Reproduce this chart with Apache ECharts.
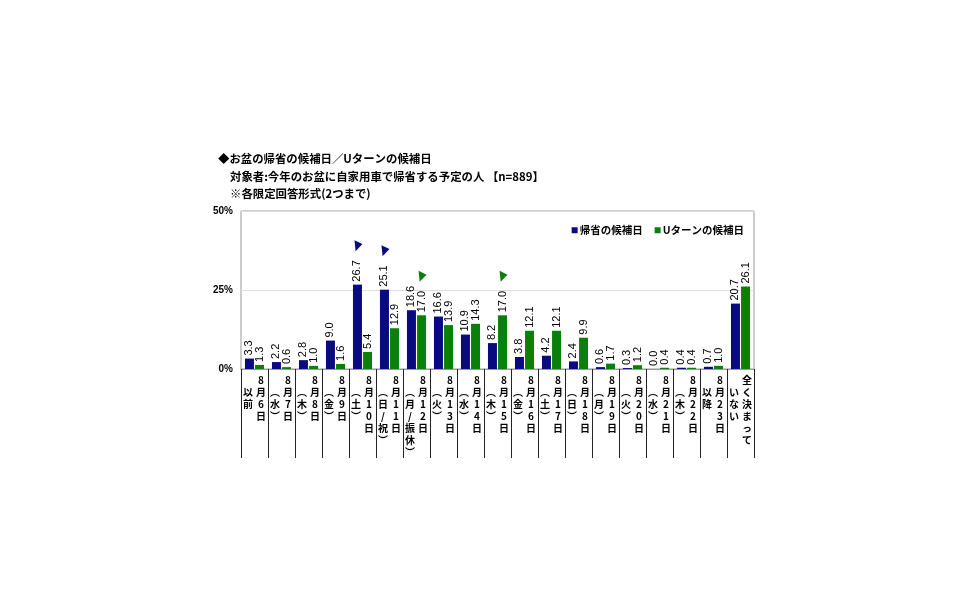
<!DOCTYPE html>
<html>
<head>
<meta charset="utf-8">
<script src="https://cdn.jsdelivr.net/npm/echarts@6/dist/echarts.min.js"></script>
<style>
html,body{margin:0;padding:0;background:#fff;}
#c{width:968px;height:605px;}
</style>
</head>
<body>
<div id="c"></div>
<script>
// ---- data ----
var titleLines = [
  '◆お盆の帰省の候補日／Uターンの候補日',
  '対象者:今年のお盆に自家用車で帰省する予定の人 【n=889】',
  '※各限定回答形式(2つまで)'
];
var seriesNames = ['帰省の候補日', 'Uターンの候補日'];
// right column (read first) and left column of each vertical category label
var catMain = ['8月6日','8月7日','8月8日','8月9日','8月10日','8月11日','8月12日','8月13日','8月14日','8月15日','8月16日','8月17日','8月18日','8月19日','8月20日','8月21日','8月22日','8月23日','全く決まって'];
var catSub  = ['以前','︵水︶','︵木︶','︵金︶','︵土︶','︵日/祝︶','︵月/振休︶','︵火︶','︵水︶','︵木︶','︵金︶','︵土︶','︵日︶','︵月︶','︵火︶','︵水︶','︵木︶','以降','いない'];
var homeValues  = [3.3, 2.2, 2.8, 9.0, 26.7, 25.1, 18.6, 16.6, 10.9, 8.2, 3.8, 4.2, 2.4, 0.6, 0.3, 0.0, 0.4, 0.7, 20.7];
var uturnValues = [1.3, 0.6, 1.0, 1.6, 5.4, 12.9, 17.0, 13.9, 14.3, 17.0, 12.1, 12.1, 9.9, 1.7, 1.2, 0.4, 0.4, 1.0, 26.1];
var homeMarked  = [4, 5];
var uturnMarked = [6, 9];
var yTicks = [0, 25, 50];

var categories = catMain.map(function (m, i) { return m + catSub[i]; });

function verticalLabel(value, idx) {
  var r = Array.from(catMain[idx]);
  var l = Array.from(catSub[idx]);
  var rows = Math.max(r.length, l.length + 1);
  var lines = [];
  for (var k = 0; k < rows; k++) {
    var lc = (k >= 1 && k - 1 < l.length) ? l[k - 1] : '\u3000';
    var rc = (k < r.length) ? r[k] : '\u3000';
    lines.push('{a|' + lc + '}{b|' + rc + '}');
  }
  return lines.join('\n');
}

var NAVY = '#0a0a80';
var GREEN = '#0a800a';
var flag = 'path://M0,0 L14,7 L2,20 Z';

var chart = echarts.init(document.getElementById('c'));
var labelCommon = {
  show: true,
  position: 'top',
  rotate: 90,
  align: 'left',
  verticalAlign: 'middle',
  distance: 3,
  fontSize: 11,
  fontFamily: 'Liberation Sans, Arial, sans-serif',
  color: '#000',
  formatter: function (p) { return p.value.toFixed(1); }
};
chart.setOption({
  backgroundColor: '#fff',
  animation: false,
  title: titleLines.map(function (t, i) {
    return {
      text: t,
      left: i === 0 ? 218 : 230,
      top: [153, 171, 188][i],
      padding: 0,
      textStyle: { fontSize: 11.4, fontWeight: 'bold', color: '#000', fontFamily: 'Noto Sans CJK JP' }
    };
  }),
  legend: {
    right: 219,
    top: 220,
    itemWidth: 6,
    itemHeight: 6,
    itemGap: 12,
    icon: 'rect',
    textStyle: { fontSize: 10.5, fontWeight: 'bold', color: '#000', fontFamily: 'Noto Sans CJK JP', padding: [0, 0, 0, -3] },
    data: seriesNames
  },
  grid: {
    left: 241, right: 214, top: 211, bottom: 236,
    show: true, borderColor: '#999', borderWidth: 1, backgroundColor: '#fff'
  },
  xAxis: {
    type: 'category',
    data: categories,
    axisLine: { show: true, lineStyle: { color: '#999', width: 1 } },
    axisTick: { show: true, alignWithLabel: false, length: 89, lineStyle: { color: '#222', width: 1 } },
    axisLabel: {
      interval: 0,
      margin: 5,
      formatter: verticalLabel,
      rich: {
        a: { width: 13, align: 'center', fontSize: 10, lineHeight: 12, fontWeight: 'bold', fontFamily: 'Noto Sans CJK JP', color: '#000' },
        b: { width: 13, align: 'center', fontSize: 10, lineHeight: 12, fontWeight: 'bold', fontFamily: 'Noto Sans CJK JP', color: '#000' }
      }
    }
  },
  yAxis: {
    type: 'value',
    min: yTicks[0],
    max: yTicks[yTicks.length - 1],
    interval: yTicks[1] - yTicks[0],
    axisLine: { show: false },
    axisTick: { show: false },
    splitLine: { show: true, lineStyle: { color: '#ddd', width: 1 } },
    axisLabel: {
      margin: 8,
      formatter: '{value}%',
      fontSize: 10,
      fontWeight: 'bold',
      fontFamily: 'Liberation Sans, Arial, sans-serif',
      color: '#000'
    }
  },
  series: [
    {
      name: seriesNames[0],
      type: 'bar',
      data: homeValues,
      barWidth: 9,
      barGap: '12%',
      itemStyle: { color: NAVY },
      label: labelCommon,
      markPoint: {
        symbol: flag,
        symbolSize: [8, 11],
        symbolOffset: [1, -39],
        label: { show: false },
        itemStyle: { color: NAVY },
        data: homeMarked.map(function (i) { return { coord: [i, homeValues[i]] }; })
      }
    },
    {
      name: seriesNames[1],
      type: 'bar',
      data: uturnValues,
      barWidth: 9,
      barGap: '12%',
      itemStyle: { color: GREEN },
      label: labelCommon,
      markPoint: {
        symbol: flag,
        symbolSize: [8, 11],
        symbolOffset: [1, -39],
        label: { show: false },
        itemStyle: { color: GREEN },
        data: uturnMarked.map(function (i) { return { coord: [i, uturnValues[i]] }; })
      }
    }
  ]
});
</script>
</body>
</html>
